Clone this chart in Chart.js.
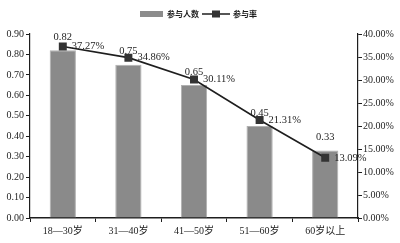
<!DOCTYPE html>
<html>
<head>
<meta charset="utf-8">
<script src="https://cdn.jsdelivr.net/npm/chart.js@4"></script>
<style>
  html, body { margin: 0; padding: 0; background: #fff; }
  #wrap { width: 400px; height: 243px; }
</style>
</head>
<body>
<div id="wrap"><canvas id="c" width="400" height="243"></canvas></div>
<script>
// data
const groups = ["18—30岁", "31—40岁", "41—50岁", "51—60岁", "60岁以上"];
const people = [0.82, 0.75, 0.65, 0.45, 0.33];
const rate = [37.27, 34.86, 30.11, 21.31, 13.09];

const ink = '#1e1e1e';
const serif = '"Liberation Serif", "Noto Sans CJK SC", serif';

// value labels next to bars and markers
const labelPlugin = {
  id: 'labels',
  afterDatasetsDraw(chart) {
    const ctx = chart.ctx;
    ctx.save();
    ctx.fillStyle = ink;
    ctx.font = '10.5px ' + serif;
    ctx.textBaseline = 'middle';
    const bars = chart.getDatasetMeta(0).data;
    bars.forEach((b, i) => {
      ctx.textAlign = 'center';
      ctx.fillText(people[i].toFixed(2), b.x, b.y - 13);
    });
    const pts = chart.getDatasetMeta(1).data;
    pts.forEach((p, i) => {
      ctx.textAlign = 'left';
      ctx.fillText(rate[i].toFixed(2) + '%', p.x + 9, p.y);
    });
    ctx.restore();
  }
};

// legend drawn by hand: grey box, line with square marker
const legendPlugin = {
  id: 'myLegend',
  afterDraw(chart) {
    const ctx = chart.ctx;
    ctx.save();
    ctx.fillStyle = '#8c8c8c';
    ctx.fillRect(140, 11, 23, 6);
    ctx.fillStyle = ink;
    ctx.font = 'bold 8px "Noto Sans CJK SC", sans-serif';
    ctx.textBaseline = 'middle';
    ctx.textAlign = 'left';
    ctx.fillText('参与人数', 167, 14);
    ctx.strokeStyle = ink;
    ctx.lineWidth = 1.5;
    ctx.beginPath();
    ctx.moveTo(202, 14);
    ctx.lineTo(230, 14);
    ctx.stroke();
    ctx.fillStyle = '#333';
    ctx.fillRect(212, 10.5, 8, 7);
    ctx.fillStyle = ink;
    ctx.fillText('参与率', 233, 14);
    ctx.restore();
  }
};

const ctx = document.getElementById('c').getContext('2d');

const chart = new Chart(ctx, {
  type: 'bar',
  data: {
    labels: groups,
    datasets: [{
      type: 'bar',
      label: '参与人数',
      data: people,
      yAxisID: 'y',
      backgroundColor: '#8a8a8a',
      borderColor: '#b0b0b0',
      borderWidth: 1,
      categoryPercentage: 1,
      barPercentage: 0.4,
      order: 1
    },
    {
      type: 'line',
      label: '参与率',
      data: rate,
      yAxisID: 'y1',
      borderColor: ink,
      borderWidth: 1.6,
      pointStyle: 'rect',
      pointRadius: 4.5,
      pointBackgroundColor: '#333',
      pointBorderColor: '#333',
      fill: false,
      tension: 0,
      order: 0
    }]
  },
  options: {
    responsive: false,
    animation: false,
    layout: { padding: { top: 34, bottom: 0, left: 0, right: 0 } },
    plugins: {
      legend: { display: false },
      tooltip: { enabled: false }
    },
    scales: {
      x: {
        grid: { display: true, drawOnChartArea: false, offset: true, color: ink, tickLength: 4 },
        border: { color: ink, width: 1.5 },
        ticks: { color: ink, font: { family: serif, size: 10 }, padding: 3, maxRotation: 0 },
        afterFit(s) { s.height = 25; }
      },
      y: {
        position: 'left',
        min: 0,
        max: 0.9,
        ticks: {
          stepSize: 0.1,
          color: ink,
          font: { family: serif, size: 10 },
          padding: 2,
          callback: v => v.toFixed(2)
        },
        grid: { drawOnChartArea: false, color: ink, tickLength: 4 },
        border: { color: ink, width: 1.2 },
        afterFit(s) { s.width = 30; }
      },
      y1: {
        position: 'right',
        min: 0,
        max: 40,
        ticks: {
          stepSize: 5,
          color: ink,
          font: { family: serif, size: 10 },
          padding: 1,
          callback: v => v.toFixed(2) + '%'
        },
        grid: { drawOnChartArea: false, color: ink, tickLength: 4 },
        border: { color: ink, width: 1.2 },
        afterFit(s) { s.width = 42; }
      }
    }
  },
  plugins: [labelPlugin, legendPlugin]
});
</script>
</body>
</html>
